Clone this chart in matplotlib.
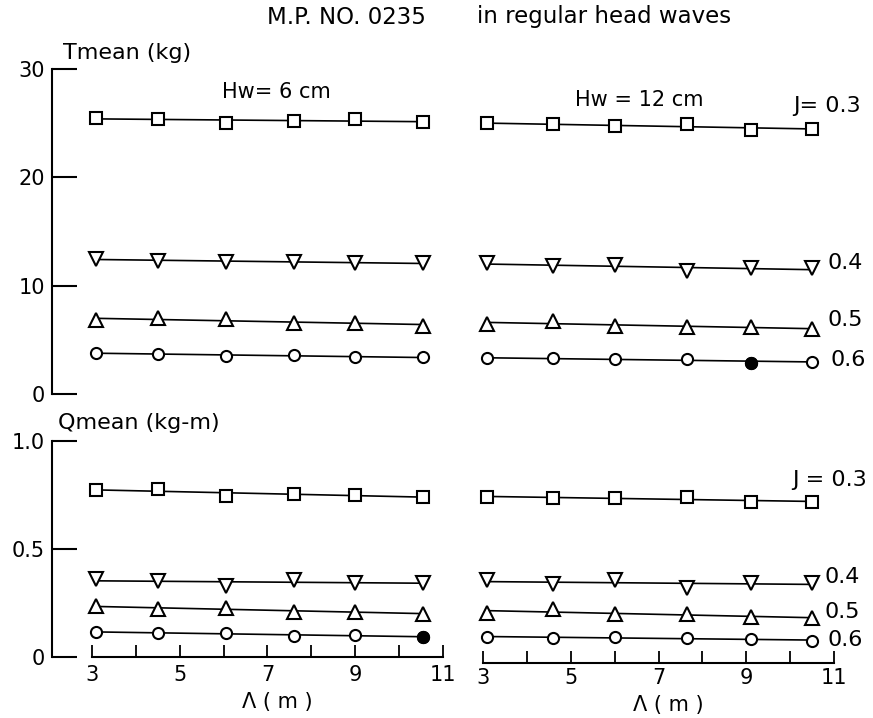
import numpy as np
import matplotlib
matplotlib.use("Agg")
import matplotlib.pyplot as plt

plt.rcParams['font.family'] = ['DejaVu Sans']

# Wave length (m) for the two wave heights
wl_6 = [3.1, 4.5, 6.05, 7.6, 9.0, 10.55]
wl_12 = [3.1, 4.6, 6.0, 7.65, 9.1, 10.5]

advance = ["0.3", "0.4", "0.5", "0.6"]

# Mean thrust Tmean (kg)
t_6 = {
    "0.3": [25.5, 25.4, 25.0, 25.2, 25.4, 25.1],
    "0.4": [12.5, 12.3, 12.2, 12.2, 12.1, 12.1],
    "0.5": [6.8, 7.0, 6.9, 6.6, 6.6, 6.3],
    "0.6": [3.8, 3.7, 3.5, 3.6, 3.4, 3.4],
}
t_12 = {
    "0.3": [25.0, 24.9, 24.7, 24.9, 24.4, 24.5],
    "0.4": [12.1, 11.8, 11.9, 11.4, 11.6, 11.6],
    "0.5": [6.5, 6.7, 6.3, 6.2, 6.2, 6.0],
    "0.6": [3.3, 3.3, 3.2, 3.2, 2.9, 3.0],
}

# Mean torque Qmean (kg-m)
q_6 = {
    "0.3": [0.773, 0.778, 0.745, 0.755, 0.750, 0.741],
    "0.4": [0.360, 0.350, 0.330, 0.357, 0.343, 0.343],
    "0.5": [0.236, 0.222, 0.227, 0.210, 0.210, 0.200],
    "0.6": [0.116, 0.111, 0.111, 0.097, 0.102, 0.093],
}
q_12 = {
    "0.3": [0.741, 0.736, 0.736, 0.741, 0.718, 0.718],
    "0.4": [0.356, 0.338, 0.356, 0.319, 0.343, 0.343],
    "0.5": [0.204, 0.222, 0.199, 0.199, 0.185, 0.180],
    "0.6": [0.093, 0.088, 0.093, 0.088, 0.083, 0.074],
}

x_ticks = [3, 4, 5, 6, 7, 8, 9, 10, 11]
x_labels = ["3", "", "5", "", "7", "", "9", "", "11"]
t_ticks = [0, 10, 20, 30]
t_labels = ["0", "10", "20", "30"]
q_ticks = [0, 0.5, 1.0]
q_labels = ["0", "0.5", "1.0"]

markers = {"0.3": ("s", 8), "0.4": ("v", 10), "0.5": ("^", 10), "0.6": ("o", 8)}

W, H = 873, 718
fig = plt.figure(figsize=(W / 100, H / 100), dpi=100)


def box(x0, x1, y0, y1):
    return [x0 / W, 1 - y1 / H, (x1 - x0) / W, (y1 - y0) / H]


ax_tl = fig.add_axes(box(52, 445, 69, 394))
ax_tr = fig.add_axes(box(470, 845, 69, 394))
ax_bl = fig.add_axes(box(52, 445, 441, 657))
ax_br = fig.add_axes(box(470, 845, 441, 657))

for ax in (ax_tl, ax_bl):
    ax.set_xlim(2.088, 11.046)
for ax in (ax_tr, ax_br):
    ax.set_xlim(2.704, 11.25)
for ax in (ax_tl, ax_tr):
    ax.set_ylim(0, 30)
for ax in (ax_bl, ax_br):
    ax.set_ylim(0, 1.0)

for ax in (ax_tl, ax_tr, ax_bl, ax_br):
    ax.patch.set_visible(False)
    for s in ax.spines.values():
        s.set_visible(False)
        s.set_linewidth(1.5)
    ax.set_xticks([])
    ax.set_yticks([])

# y axes on the left-hand panels
for ax, ticks, labels, top in ((ax_tl, t_ticks, t_labels, 30), (ax_bl, q_ticks, q_labels, 1.0)):
    ax.spines['left'].set_visible(True)
    ax.spines['left'].set_bounds(0, top)
    ax.set_yticks(ticks)
    ax.set_yticklabels(labels)
    ax.tick_params(axis='y', direction='in', length=18, width=1.5, pad=5, labelsize=15)

# x axes under the torque panels
for ax, pad, offset, lx, ly in ((ax_bl, 6, 0, 0.573, -0.208), (ax_br, 4, 4, 0.528, -0.222)):
    ax.spines['bottom'].set_visible(True)
    ax.spines['bottom'].set_bounds(3, 11)
    ax.spines['bottom'].set_position(('outward', offset))
    ax.set_xticks(x_ticks)
    ax.set_xticklabels(x_labels)
    ax.tick_params(axis='x', direction='in', length=9, width=1.3, pad=pad, labelsize=15)
    ax.set_xlabel("Λ ( m )", fontsize=15, ha='center', va='center')
    ax.xaxis.set_label_coords(lx, ly)


def draw(ax, xs, series, filled=None):
    for j in advance:
        ys = series[j]
        m, ms = markers[j]
        k, b = np.polyfit(xs, ys, 1)
        ax.plot([xs[0], xs[-1]], [k * xs[0] + b, k * xs[-1] + b],
                color='black', lw=1.2, clip_on=False, zorder=2)
        ax.plot(xs, ys, linestyle='none', marker=m, ms=ms, mfc='white',
                mec='black', mew=1.5, clip_on=False, zorder=3)
    if filled is not None:
        j, i = filled
        ax.plot([xs[i]], [series[j][i]], linestyle='none', marker='o', ms=8,
                mfc='black', mec='black', mew=1.5, clip_on=False, zorder=4)


draw(ax_tl, wl_6, t_6)
draw(ax_tr, wl_12, t_12, filled=("0.6", 4))
draw(ax_bl, wl_6, q_6, filled=("0.6", 5))
draw(ax_br, wl_12, q_12)

# advance-ratio labels at the line ends
ax_tr.text(10.07, 26.6, "J= 0.3", fontsize=16, ha='left', va='center')
ax_tr.text(10.86, 12.1, "0.4", fontsize=16, ha='left', va='center')
ax_tr.text(10.84, 6.8, "0.5", fontsize=16, ha='left', va='center')
ax_tr.text(10.91, 3.1, "0.6", fontsize=16, ha='left', va='center')
ax_br.text(10.04, 0.82, "J = 0.3", fontsize=16, ha='left', va='center')
ax_br.text(10.79, 0.37, "0.4", fontsize=16, ha='left', va='center')
ax_br.text(10.79, 0.208, "0.5", fontsize=16, ha='left', va='center')
ax_br.text(10.85, 0.079, "0.6", fontsize=16, ha='left', va='center')

# headings and axis titles
fig.text(267 / W, 1 - 17 / H, "M.P. NO. 0235", fontsize=16.5, ha='left', va='center')
fig.text(477 / W, 1 - 17 / H, "in regular head waves", fontsize=16.5, ha='left', va='center')
fig.text(63 / W, 1 - 53 / H, "Tmean (kg)", fontsize=16, ha='left', va='center')
fig.text(58 / W, 1 - 423 / H, "Qmean (kg-m)", fontsize=16, ha='left', va='center')
fig.text(222 / W, 1 - 92 / H, "Hw= 6 cm", fontsize=15, ha='left', va='center')
fig.text(575 / W, 1 - 100 / H, "Hw = 12 cm", fontsize=15, ha='left', va='center')

fig.savefig("out.png", dpi=100)
